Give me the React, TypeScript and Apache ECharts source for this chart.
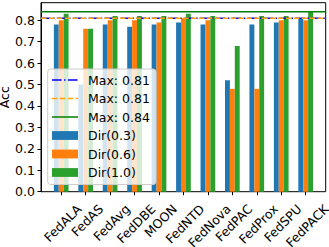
import React, { useEffect, useRef } from "react";
import * as echarts from "echarts";

const categories = ["FedALA", "FedAS", "FedAvg", "FedDBE", "MOON", "FedNTD", "FedNova", "FedPAC", "FedProx", "FedSPU", "FedPACK"];
const seriesNames = ["Dir(0.3)", "Dir(0.6)", "Dir(1.0)"];
const dir03 = [0.78, 0.50, 0.78, 0.77, 0.78, 0.79, 0.78, 0.52, 0.78, 0.79, 0.81];
const dir06 = [0.80, 0.76, 0.80, 0.80, 0.79, 0.81, 0.80, 0.48, 0.48, 0.80, 0.80];
const dir10 = [0.83, 0.76, 0.82, 0.82, 0.82, 0.83, 0.82, 0.68, 0.82, 0.82, 0.84];
const yTicks = [0, 0.1, 0.2, 0.3, 0.4, 0.5, 0.6, 0.7, 0.8];
const yMax = 0.882;

const barColors = ["#1f77b4", "#ff7f0e", "#2ca02c"];
const lineColors = ["#0000ff", "#ffa500", "#008000"];
const lineDashes: any[] = [[9.6, 2.4, 1.5, 2.4], [5.5, 2.4], "solid"];
const FONT = "DejaVu Sans";
const FS = 12.5;

export default function App() {
  const ref = useRef<HTMLDivElement>(null);
  useEffect(() => {
    if (!ref.current) return;
    const chart = echarts.init(ref.current, undefined, { renderer: "svg" });
    const seriesData = [dir03, dir06, dir10];
    const maxValues = seriesData.map((d) => Math.max(...d));
    const maxLabels = maxValues.map((v) => `Max: ${v.toFixed(2)}`);

    const ctx = document.createElement("canvas").getContext("2d")!;
    ctx.font = `${FS}px "${FONT}"`;
    const H = 14.5;
    const pad = 9.8;
    const m = 27;
    const sx = 1.5;
    const rich: any = {};
    categories.forEach((c, i) => {
      const L = ctx.measureText(c).width;
      const sy = pad + 0.354 * (L + H) - m;
      const lx = (sx - sy) / 1.414;
      const ly = (sx + sy) / 1.414;
      const padT = ly > 0 ? 2 * ly : 0;
      const padB = ly < 0 ? -2 * ly : 0;
      const padL = lx > 0 ? 2 * lx : 0;
      const padR = lx < 0 ? -2 * lx : 0;
      rich["l" + i] = { padding: [padT, padR, padB, padL], fontSize: FS, fontFamily: FONT, color: "#000" };
    });

    const gL = 41, gR = 3.3, gT = 2.7, gB = 55.3;
    const bL = 49, bR = 11.1;

    const Z = 100;
    const legendRows = [80, 98.5, 117, 135.5, 154, 172.5];
    const legendEls: any[] = [
      {
        type: "rect",
        z: Z,
        shape: { x: 47.7, y: 69, width: 108.3, height: 115.5, r: 3 },
        style: { fill: "rgba(255,255,255,0.8)", stroke: "#cccccc", lineWidth: 1 },
      },
    ];
    maxLabels.forEach((lab, i) => {
      const y = legendRows[i];
      legendEls.push({
        type: "line",
        z: Z + 1,
        shape: { x1: 52, y1: y, x2: 78, y2: y },
        style: { stroke: lineColors[i], lineWidth: 1.5, lineDash: lineDashes[i] === "solid" ? null : lineDashes[i] },
      });
      legendEls.push({
        type: "text",
        z: Z + 1,
        x: 88,
        y,
        style: { text: lab, fontSize: FS, fontFamily: FONT, fill: "#000", verticalAlign: "middle" },
      });
    });
    seriesNames.forEach((n, i) => {
      const y = legendRows[3 + i];
      legendEls.push({
        type: "rect",
        z: Z + 1,
        shape: { x: 52, y: y - 4.4, width: 26, height: 8.8 },
        style: { fill: barColors[i] },
      });
      legendEls.push({
        type: "text",
        z: Z + 1,
        x: 88,
        y,
        style: { text: n, fontSize: FS, fontFamily: FONT, fill: "#000", verticalAlign: "middle" },
      });
    });

    const option: any = {
      animation: false,
      backgroundColor: "#fff",
      grid: [
        { left: bL, right: bR, top: gT, bottom: gB, outerBoundsMode: "none" },
        { left: gL, right: gR, top: gT, bottom: gB, show: true, borderColor: "#000", borderWidth: 1, backgroundColor: "transparent", outerBoundsMode: "none" },
      ],
      xAxis: [
        {
          type: "category",
          gridIndex: 0,
          data: categories,
          axisLine: { show: false },
          axisTick: { show: true, alignWithLabel: true, length: 3.5, lineStyle: { color: "#000", width: 1 } },
          axisLabel: {
            interval: 0,
            rotate: 45,
            align: "center",
            verticalAlign: "middle",
            margin: m,
            formatter: (v: string, i: number) => `{l${i}|${v}}`,
            rich,
          },
        },
        { type: "value", gridIndex: 1, min: 0, max: 1, show: false },
      ],
      yAxis: [
        { type: "value", gridIndex: 0, min: 0, max: yMax, show: false },
        {
          type: "value",
          gridIndex: 1,
          min: 0,
          max: yMax,
          name: "Acc",
          nameLocation: "middle",
          nameRotate: 90,
          nameGap: 30,
          nameMoveOverlap: false,
          nameTextStyle: { fontSize: FS, fontFamily: FONT, color: "#000" },
          axisLine: { show: true, lineStyle: { color: "#000", width: 1 } },
          axisTick: { show: true, length: 3.5, lineStyle: { color: "#000" }, customValues: yTicks },
          axisLabel: {
            margin: 6,
            fontSize: FS,
            fontFamily: FONT,
            color: "#000",
            customValues: yTicks,
            formatter: (v: number) => v.toFixed(1),
          },
          splitLine: { show: false },
        },
      ],
      series: [
        ...seriesData.map((d, i) => ({
          type: "bar",
          name: seriesNames[i],
          xAxisIndex: 0,
          yAxisIndex: 0,
          data: d,
          barWidth: 4.9,
          barGap: "0%",
          itemStyle: { color: barColors[i] },
          z: 2,
        })),
        ...maxValues.map((v, i) => ({
          type: "line",
          name: maxLabels[i],
          xAxisIndex: 1,
          yAxisIndex: 1,
          data: [[0, v], [1, v]],
          symbol: "none",
          lineStyle: { color: lineColors[i], width: 1.5, type: lineDashes[i] },
          z: 5 + i,
        })),
      ],
      graphic: { elements: legendEls },
    };
    chart.setOption(option);
    return () => chart.dispose();
  }, []);
  return <div ref={ref} style={{ position: "fixed", left: 0, top: 0, width: 329, height: 247 }} />;
}
